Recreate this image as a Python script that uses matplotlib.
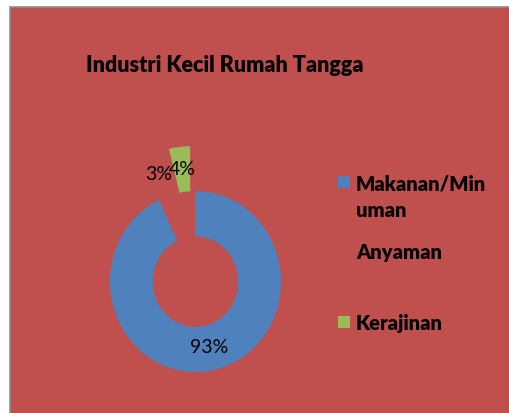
import numpy as np
import matplotlib
matplotlib.use('Agg')
import matplotlib.pyplot as plt
from matplotlib.patches import Rectangle

# data
categories = ['Makanan/Min\numan', 'Anyaman', 'Kerajinan']
values = [93, 3, 4]
colors = ['#4F81BD', '#C0504D', '#9BBB59']
explode = [0, 0, 0.5]
title = 'Industri Kecil Rumah Tangga'

W, H = 509, 413
plt.rcParams['font.family'] = ['Lato', 'DejaVu Sans']
fig = plt.figure(figsize=(W / 100, H / 100), dpi=100)
fig.patch.set_facecolor('white')

# red chart area with grey border
fig.patches.append(Rectangle((10 / W, -0.01), 1.0, 1 - 7 / H + 0.01,
                             transform=fig.transFigure, facecolor='#C0504D',
                             edgecolor='#8C8C8C', linewidth=1.2, zorder=-5))

# pie axes (pixel based, chart is slightly stretched vertically)
cx, cy = 195.5, H - 281.6
rx, ry = 85.5, 90.5
half = 170
ax = fig.add_axes([(cx - half) / W, (cy - half) / H, 2 * half / W, 2 * half / H])
ax.set_zorder(1)
wedges, texts, autotexts = ax.pie(values, colors=colors, explode=explode,
                                  startangle=90, counterclock=False,
                                  autopct='%1.0f%%', pctdistance=0.75,
                                  wedgeprops=dict(width=0.5, linewidth=0),
                                  textprops=dict(fontsize=14, color='black'))
ax.set_aspect('auto')
ax.set_xlim(-half / rx, half / rx)
ax.set_ylim(-half / ry, half / ry)
ax.axis('off')

# Anyaman label sits outside the ring
w = wedges[1]
mid = np.deg2rad((w.theta1 + w.theta2) / 2)
autotexts[1].set_position((1.26 * np.cos(mid), 1.26 * np.sin(mid)))

fig.text(225 / W, 1 - 66 / H, title, ha='center', va='center',
         fontsize=15.5, fontweight='heavy')

# legend drawn by hand (marker lines up with first text line)
leg_y = [182, 251, 321.5]
for lab, col, y in zip(categories, colors, leg_y):
    fig.patches.append(Rectangle((337.5 / W, 1 - (y + 6) / H), 12 / W, 12 / H,
                                 transform=fig.transFigure, facecolor=col,
                                 edgecolor='none', zorder=2))
    fig.text(356 / W, 1 - (y - 7.5) / H, lab, ha='left', va='top',
             fontsize=14.5, fontweight='heavy', linespacing=1.45)

fig.savefig('out.png', dpi=100)
